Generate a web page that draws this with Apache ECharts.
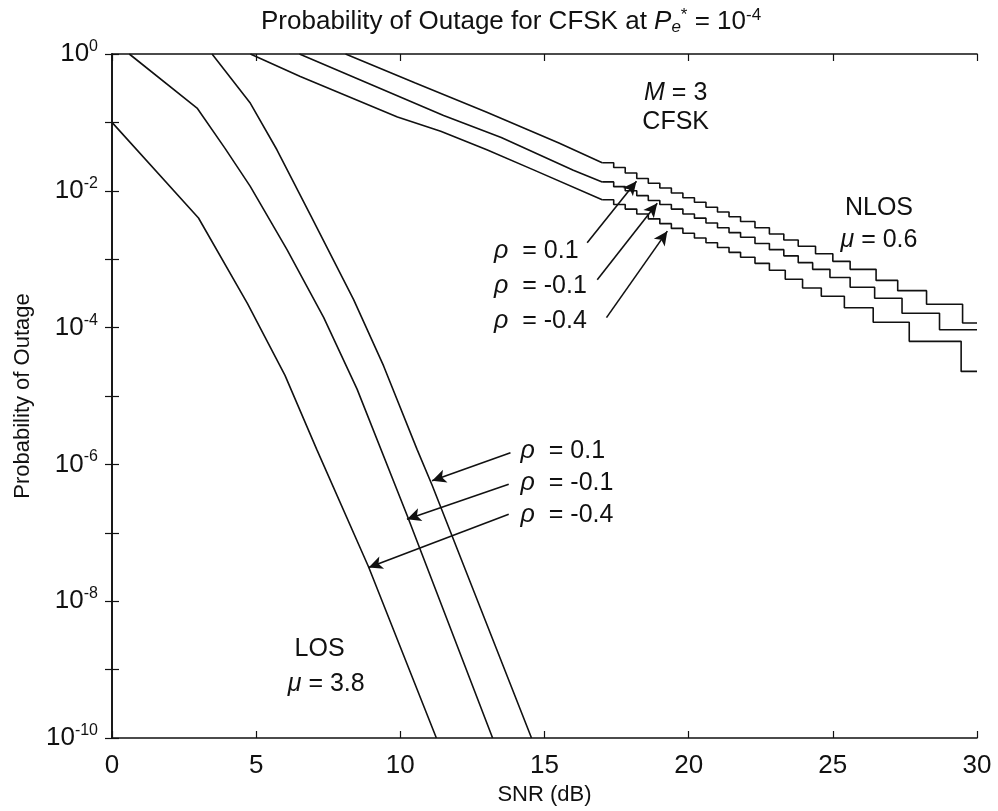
<!DOCTYPE html>
<html>
<head>
<meta charset="utf-8">
<script src="https://cdn.jsdelivr.net/npm/echarts@6/dist/echarts.min.js"></script>
<style>html,body{margin:0;padding:0;background:#fff;}#c{width:998px;height:811px;}</style>
</head>
<body>
<div id="c"></div>
<script>
// ---- Data (SNR in dB, probability of outage) ----
const xTicks = [0, 5, 10, 15, 20, 25, 30];

// LOS, mu = 3.8
const losRhoM04X = [0, 3, 4.7, 6, 7.1, 8.9, 11.25];
const losRhoM04Y = [1e-1, 4.0e-3, 2.24e-4, 2.0e-5, 1.66e-6, 3.16e-8, 1e-10];
const losRhoM01X = [0.6, 2.95, 3.92, 4.79, 6.07, 7.34, 8.5, 10.24, 13.2];
const losRhoM01Y = [1, 0.162, 0.0417, 0.0117, 1.38e-3, 1.41e-4, 1.26e-5, 1.78e-7, 1e-10];
const losRho01X = [3.47, 4.8, 5.72, 6.875, 8.38, 9.42, 10.58, 11.1, 14.55];
const losRho01Y = [1, 0.19, 0.0398, 4.47e-3, 2.57e-4, 2.75e-5, 1.66e-6, 5.0e-7, 1e-10];

// NLOS, mu = 0.6 (smooth part, then stair part)
const nlosRho01X = [8.1, 10.5, 13.0, 15.5, 17.0];
const nlosRho01Y = [1, 0.38, 0.141, 0.050, 0.0257];
const nlosRho01StepX = [17.0, 17.4, 17.8, 18.2, 18.6, 19.0, 19.4, 19.8, 20.2, 20.6, 21.0, 21.4, 21.8, 22.3, 22.8, 23.3, 23.8, 24.4, 25.0, 25.6, 26.5, 27.25, 28.25, 29.5, 30];
const nlosRho01StepY = [0.0257, 0.0219, 0.0182, 0.0151, 0.0129, 0.011, 9.3e-3, 7.9e-3, 6.8e-3, 5.75e-3, 4.9e-3, 4.17e-3, 3.55e-3, 2.88e-3, 2.34e-3, 1.91e-3, 1.55e-3, 1.2e-3, 9.3e-4, 7.1e-4, 4.9e-4, 3.47e-4, 2.19e-4, 1.17e-4, 1.17e-4];

const nlosRhoM01X = [6.5, 9.0, 11.5, 13.5, 16, 17.0];
const nlosRhoM01Y = [1, 0.355, 0.126, 0.0603, 0.02, 0.0135];
const nlosRhoM01StepX = [17.0, 17.4, 17.8, 18.2, 18.6, 19.0, 19.4, 19.8, 20.2, 20.6, 21.0, 21.4, 21.8, 22.3, 22.8, 23.3, 23.8, 24.3, 24.9, 25.6, 26.45, 27.4, 28.7, 30];
const nlosRhoM01StepY = [0.0135, 0.0115, 0.01, 8.5e-3, 7.2e-3, 6.3e-3, 5.4e-3, 4.57e-3, 3.98e-3, 3.39e-3, 2.88e-3, 2.45e-3, 2.09e-3, 1.7e-3, 1.38e-3, 1.12e-3, 8.9e-4, 7.1e-4, 5.4e-4, 3.89e-4, 2.69e-4, 1.62e-4, 9.3e-5, 9.3e-5];

const nlosRhoM04X = [4.8, 6.53, 9.9, 11.4, 13.0, 14.6, 17.0];
const nlosRhoM04Y = [1, 0.468, 0.12, 0.0741, 0.0398, 0.0204, 7.4e-3];
const nlosRhoM04StepX = [17.0, 17.4, 17.8, 18.2, 18.6, 19.0, 19.4, 19.8, 20.2, 20.6, 21.0, 21.4, 21.8, 22.3, 22.8, 23.35, 23.95, 24.6, 25.4, 26.4, 27.65, 29.45, 30];
const nlosRhoM04StepY = [7.4e-3, 6.3e-3, 5.4e-3, 4.57e-3, 3.89e-3, 3.31e-3, 2.82e-3, 2.4e-3, 2.04e-3, 1.74e-3, 1.48e-3, 1.26e-3, 1.07e-3, 8.7e-4, 6.9e-4, 5.1e-4, 3.8e-4, 2.88e-4, 1.95e-4, 1.2e-4, 6.3e-5, 2.29e-5, 2.29e-5];

// Arrow annotations: [tailX, tailY, tipX, tipY]
const arrowNlos01 = [16.48, 1.74e-3, 18.19, 1.38e-2];
const arrowNlosM01 = [16.83, 5.0e-4, 18.91, 6.6e-3];
const arrowNlosM04 = [17.15, 1.4e-4, 19.26, 2.57e-3];
const arrowLos01 = [13.82, 1.48e-6, 11.1, 5.75e-7];
const arrowLosM01 = [13.76, 5.13e-7, 10.23, 1.58e-7];
const arrowLosM04 = [13.76, 1.86e-7, 8.9, 3.1e-8];

// Annotation texts
const annoLabels = [
  {text: '{i|M} = 3', x: 19.55, y: 2.7e-1},
  {text: 'CFSK', x: 19.55, y: 1.02e-1},
  {text: 'NLOS', x: 26.6, y: 5.6e-3},
  {text: '{i|μ} = 0.6', x: 26.6, y: 1.9e-3},
  {text: 'LOS', x: 7.2, y: 2.0e-9},
  {text: '{i|μ} = 3.8', x: 7.43, y: 6.2e-10},
  {text: '{i|ρ}  = 0.1', x: 13.25, y: 1.32e-3, left: true},
  {text: '{i|ρ}  = -0.1', x: 13.25, y: 4.07e-4, left: true},
  {text: '{i|ρ}  = -0.4', x: 13.25, y: 1.26e-4, left: true},
  {text: '{i|ρ}  = 0.1', x: 14.17, y: 1.55e-6, left: true},
  {text: '{i|ρ}  = -0.1', x: 14.17, y: 5.4e-7, left: true},
  {text: '{i|ρ}  = -0.4', x: 14.17, y: 1.82e-7, left: true}
];

function zip(xs, ys) { return xs.map((x, i) => [x, ys[i]]); }

const FONT = 'Liberation Sans';
const TICK_FS = 26;
const ANNO_FS = 25;
const lineStyle = {color: '#111', width: 1.6};

function curve(name, xs, ys, step) {
  return {
    type: 'line', name: name, data: zip(xs, ys), showSymbol: false, symbol: 'none',
    step: step ? 'end' : false, lineStyle: lineStyle, clip: true, animation: false, z: 3
  };
}

function arrowSeries(list) {
  return {
    type: 'line', data: [], silent: true, animation: false,
    markLine: {
      silent: true, animation: false,
      symbol: ['none', 'arrow'], symbolSize: [10, 14],
      label: {show: false},
      lineStyle: {color: '#111', width: 1.6, type: 'solid'},
      data: list.map(a => [{coord: [a[0], a[1]]}, {coord: [a[2], a[3]]}])
    }
  };
}

const chart = echarts.init(document.getElementById('c'), null, {renderer: 'canvas'});

const supRich = {
  b: {fontFamily: FONT, fontSize: TICK_FS, color: '#111'},
  s: {fontFamily: FONT, fontSize: 16, color: '#111', padding: [0, 0, 15, 0]}
};

function yLabel(v) {
  const e = Math.round(Math.log10(v));
  if (e % 2 !== 0) return '';
  return '{b|10}{s|' + e + '}';
}

const axisLineStyle = {lineStyle: {color: '#111', width: 1.6}};
const tickStyle = {inside: true, length: 7, lineStyle: {color: '#111', width: 1.2}};

const option = {
  backgroundColor: '#fff',
  animation: false,
  textStyle: {fontFamily: FONT},
  title: {
    text: 'Probability of Outage for CFSK at {i|P}{sub|e}{sup|*} = 10{sup|-4}',
    left: 256, top: 2,
    textStyle: {
      fontFamily: FONT, fontSize: 26, fontWeight: 'normal', color: '#111',
      rich: {
        i: {fontFamily: FONT, fontSize: 26, fontStyle: 'italic', color: '#111'},
        sub: {fontFamily: FONT, fontSize: 17, fontStyle: 'italic', color: '#111', padding: [12, 0, 0, 0]},
        sup: {fontFamily: FONT, fontSize: 17, color: '#111', padding: [0, 0, 12, 0]}
      }
    }
  },
  grid: {left: 112, right: 21, top: 54, bottom: 72, containLabel: false},
  xAxis: [{
    type: 'value', min: 0, max: 30, interval: 5, position: 'bottom',
    name: 'SNR (dB)', nameLocation: 'middle', nameGap: 46,
    nameTextStyle: {fontFamily: FONT, fontSize: 22, color: '#111'},
    axisLine: axisLineStyle, axisTick: tickStyle,
    axisLabel: {fontFamily: FONT, fontSize: TICK_FS, color: '#111', margin: 15},
    splitLine: {show: false}
  }, {
    type: 'value', min: 0, max: 30, interval: 5, position: 'top',
    axisLine: axisLineStyle, axisTick: tickStyle,
    axisLabel: {show: false}, splitLine: {show: false}
  }],
  yAxis: [{
    type: 'log', logBase: 10, min: 1e-10, max: 1, interval: 1, position: 'left',
    name: 'Probability of Outage', nameLocation: 'middle', nameGap: 78,
    nameTextStyle: {fontFamily: FONT, fontSize: 22, color: '#111'},
    axisLine: axisLineStyle, axisTick: tickStyle,
    axisLabel: {formatter: yLabel, rich: supRich, margin: 14, showMinLabel: true, showMaxLabel: true},
    minorTick: {show: false},
    splitLine: {show: false}
  }, {
    type: 'log', logBase: 10, min: 1e-10, max: 1, interval: 1, position: 'right',
    axisLine: axisLineStyle, axisTick: tickStyle,
    axisLabel: {show: false}, splitLine: {show: false}
  }],
  series: [
    curve('LOS rho=-0.4', losRhoM04X, losRhoM04Y),
    curve('LOS rho=-0.1', losRhoM01X, losRhoM01Y),
    curve('LOS rho=0.1', losRho01X, losRho01Y),
    curve('NLOS rho=0.1', nlosRho01X, nlosRho01Y),
    curve('NLOS rho=0.1', nlosRho01StepX, nlosRho01StepY, true),
    curve('NLOS rho=-0.1', nlosRhoM01X, nlosRhoM01Y),
    curve('NLOS rho=-0.1', nlosRhoM01StepX, nlosRhoM01StepY, true),
    curve('NLOS rho=-0.4', nlosRhoM04X, nlosRhoM04Y),
    curve('NLOS rho=-0.4', nlosRhoM04StepX, nlosRhoM04StepY, true),
    arrowSeries([arrowNlos01, arrowNlosM01, arrowNlosM04, arrowLos01, arrowLosM01, arrowLosM04])
  ]
};

chart.setOption(option);

const annoRich = {
  i: {fontFamily: FONT, fontSize: ANNO_FS, fontStyle: 'italic', color: '#111'}
};
const graphics = annoLabels.map(a => {
  const p = chart.convertToPixel({gridIndex: 0}, [a.x, a.y]);
  return {
    type: 'text', x: p[0], y: p[1], z: 10, silent: true,
    style: {
      text: a.text, fill: '#111', fontFamily: FONT, fontSize: ANNO_FS,
      align: a.left ? 'left' : 'center', verticalAlign: 'middle', rich: annoRich
    }
  };
});
chart.setOption({graphic: graphics});
</script>
</body>
</html>
